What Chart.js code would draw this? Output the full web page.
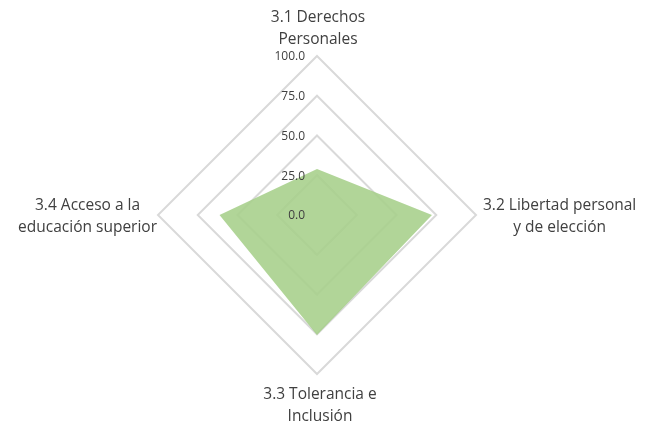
<!DOCTYPE html>
<html>
<head>
<meta charset="utf-8">
<script src="https://cdn.jsdelivr.net/npm/chart.js@4/dist/chart.umd.min.js"></script>
<style>
  html, body { margin: 0; padding: 0; background: #ffffff; }
  #wrap { width: 648px; height: 423px; }
</style>
</head>
<body>
<div id="wrap"><canvas id="c" width="648" height="423"></canvas></div>
<script>
const categories = [
  ['3.1 Derechos', 'Personales'],
  ['3.2 Libertad personal', 'y de elección'],
  ['3.3 Tolerancia e', 'Inclusión'],
  ['3.4 Acceso a la', 'educación superior']
];
const seriesValues = [29, 72.3, 75.5, 61.3];
const tickLabels = ['0.0', '25.0', '50.0', '75.0', '100.0'];
const tickValues = [0, 25, 50, 75, 100];

const FONT = '"Open Sans", "Noto Sans", sans-serif';
const TEXT = '#404040';

const labelPlugin = {
  id: 'excelLabels',
  afterDraw(chart) {
    const scale = chart.scales.r;
    const ctx = chart.ctx;
    ctx.save();
    ctx.font = '12px ' + FONT;
    ctx.fillStyle = TEXT;
    ctx.textAlign = 'right';
    ctx.textBaseline = 'middle';
    tickValues.forEach((v, i) => {
      const d = scale.getDistanceFromCenterForValue(v);
      ctx.fillText(tickLabels[i], scale.xCenter - 12, scale.yCenter - d + 1);
    });
    ctx.font = '15.5px ' + FONT;
    ctx.textAlign = 'center';
    const lh = 22;
    const R = scale.drawingArea;
    categories.forEach((lines, i) => {
      const widths = lines.map(l => ctx.measureText(l).width);
      const bw = Math.max(...widths);
      const bh = lh * lines.length;
      let cx, top;
      if (i === 0) {
        const p = scale.getPointPosition(i, R + 5);
        cx = p.x + 1; top = p.y - bh;
      } else if (i === 2) {
        const p = scale.getPointPosition(i, R + 10);
        cx = p.x + 3; top = p.y;
      } else if (i === 1) {
        const p = scale.getPointPosition(i, R + 7);
        cx = p.x + bw / 2; top = p.y - bh / 2 + 2;
      } else {
        const p = scale.getPointPosition(i, R + 1);
        cx = p.x - bw / 2; top = p.y - bh / 2 + 2;
      }
      lines.forEach((l, k) => {
        ctx.fillText(l, cx, top + lh * k + lh / 2);
      });
    });
    ctx.restore();
  }
};

new Chart(document.getElementById('c'), {
  type: 'radar',
  data: {
    labels: categories,
    datasets: [{
      data: seriesValues,
      backgroundColor: 'rgba(166,207,138,0.88)',
      borderWidth: 0,
      pointRadius: 0,
      fill: true
    }]
  },
  options: {
    responsive: false,
    animation: false,
    devicePixelRatio: 1,
    layout: { padding: { left: 100, right: 114, top: 56, bottom: 49 } },
    plugins: { legend: { display: false }, tooltip: { enabled: false } },
    elements: { line: { tension: 0 } },
    scales: {
      r: {
        min: 0,
        max: 100,
        ticks: { display: false, stepSize: 25 },
        pointLabels: { display: false },
        angleLines: { display: false },
        grid: { color: '#d9d9d9', lineWidth: 2 }
      }
    }
  },
  plugins: [labelPlugin]
});
</script>
</body>
</html>
